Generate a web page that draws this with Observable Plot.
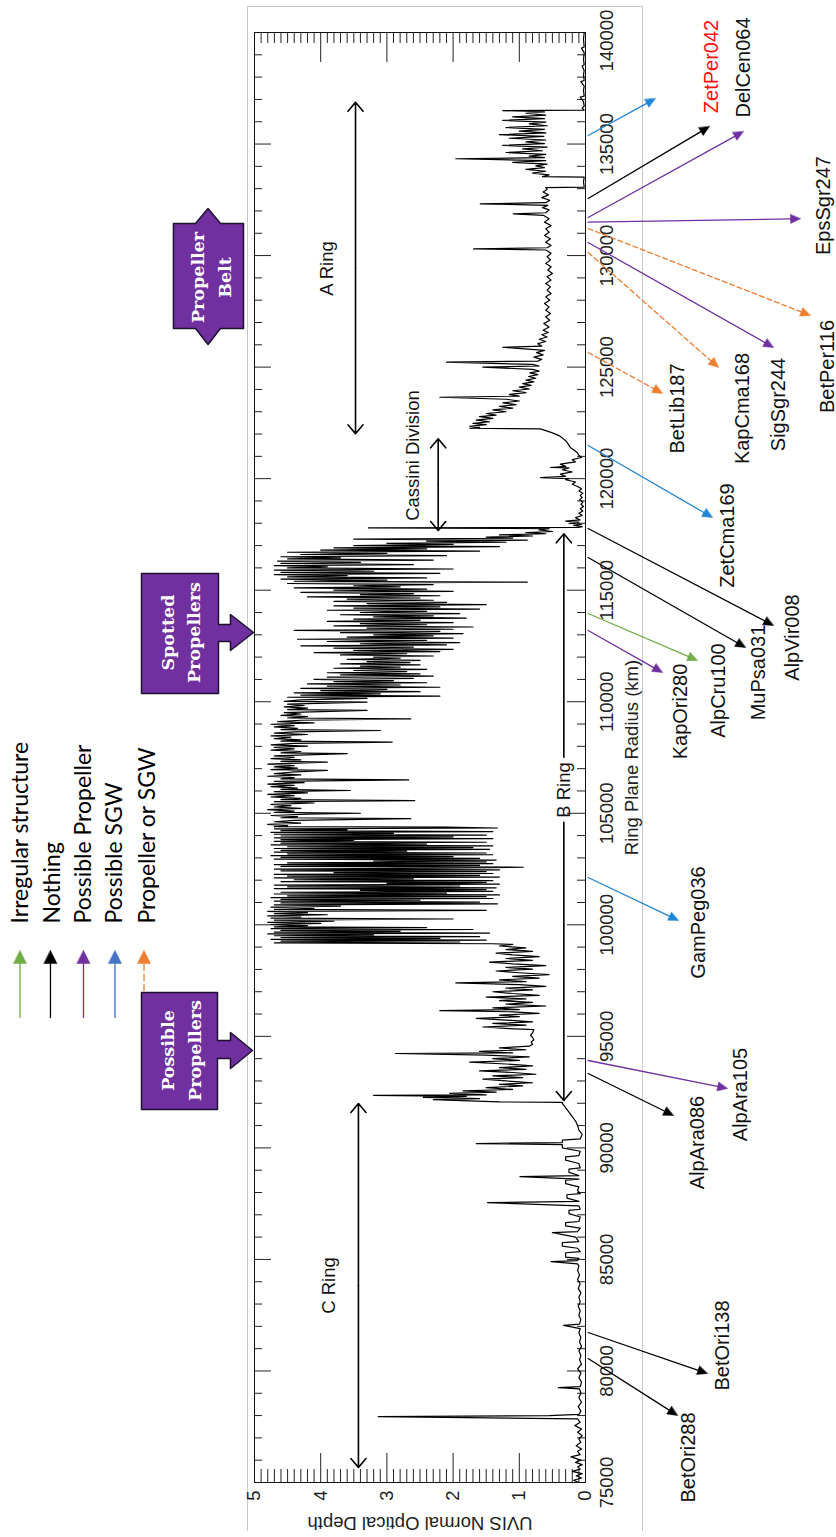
<!DOCTYPE html>
<html><head><meta charset="utf-8">
<script src="https://cdn.jsdelivr.net/npm/d3@7"></script>
<script src="https://cdn.jsdelivr.net/npm/@observablehq/plot@0.6"></script>
<style>html,body{margin:0;padding:0;background:#fff}#chart svg{display:block}</style>
</head><body><div id="chart"></div>
<script>
// ---------------- DATA: UVIS normal optical depth vs ring plane radius [radius km, depth] ----------------
const cRing = [[75000,0.1],[75100,0.18],[75200,0.06],[75300,0.14],[75400,0.05],[75500,0.2],[75600,0.08],[75700,0.12],[75800,0.05],[75900,0.15],[76000,0.07],[76150,0.22],[76250,0.08],[76400,0.12],[76500,0.06],[76650,0.14],[76800,0.07],[76950,0.1],[77100,0.05],[77250,0.12],[77400,0.06],[77550,0.16],[77700,0.08],[77850,0.12],[77950,3.13],[78000,0.55],[78050,0.1],[78200,0.07],[78400,0.11],[78600,0.06],[78800,0.1],[79000,0.07],[79200,0.09],[79250,0.41],[79300,0.08],[79500,0.06],[79700,0.1],[79900,0.07],[80100,0.12],[80300,0.06],[80500,0.09],[80700,0.07],[80900,0.1],[81100,0.06],[81300,0.09],[81500,0.07],[81700,0.1],[81900,0.08],[82040,0.33],[82100,0.09],[82300,0.07],[82500,0.1],[82700,0.08],[82900,0.11],[83100,0.08],[83300,0.1],[83500,0.07],[83700,0.11],[83900,0.08],[84100,0.12],[84300,0.09],[84500,0.12],[84700,0.1],[84800,0.12],[84900,0.52],[84950,0.12],[85050,0.1],[85100,0.3],[85300,0.3],[85350,0.08],[85500,0.12],[85600,0.35],[85750,0.35],[85800,0.1],[86000,0.15],[86200,0.5],[86250,0.12],[86400,0.08],[86500,0.3],[86650,0.3],[86700,0.1],[86900,0.08],[87050,0.25],[87200,0.25],[87250,0.08],[87400,0.1],[87550,1.48],[87600,0.1],[87750,0.28],[87900,0.28],[87950,0.08],[88100,0.12],[88250,0.1],[88400,0.3],[88550,0.3],[88600,0.1],[88715,0.99],[88760,0.1],[88900,0.25],[89050,0.25],[89100,0.08],[89300,0.1],[89450,0.3],[89600,0.3],[89650,0.1],[89850,0.08],[90000,0.35],[90150,0.35],[90195,1.65],[90240,0.35],[90350,0.35],[90400,0.08],[90600,0.05],[90800,0.1],[91000,0.12],[91200,0.15],[91400,0.2],[91600,0.25],[91800,0.3],[92000,0.35]];

const bRingInner = [[92040,0.35],[92060,1.3],[92110,1.75],[92160,2.3],[92210,1.6],[92260,2.45],[92310,1.8],[92350,3.2],[92380,1.5],[92440,2.05],[92500,1.35],[92560,1.85],[92620,1.1],[92700,1.5],[92780,0.95],[92850,1.3],[92920,0.8],[93000,1.2],[93080,1.55],[93150,0.95],[93230,1.4],[93300,0.75],[93380,1.1],[93450,1.6],[93520,0.9],[93600,1.3],[93680,0.8],[93760,1.2],[93840,1.75],[93920,1.0],[94000,1.4],[94080,0.85],[94160,1.5],[94230,2.87],[94260,1.1],[94330,1.6],[94400,0.9],[94480,1.3],[94560,0.85],[94640,0.8],[94750,0.82],[94850,0.78],[94950,0.8],[95050,0.83],[95150,0.8],[95300,0.78],[95350,1.15],[95420,1.55],[95500,0.9],[95580,1.4],[95650,0.8],[95730,1.2],[95810,1.65],[95880,1.0],[95950,1.3],[96030,0.7],[96100,1.1],[96150,2.2],[96200,1.0],[96280,1.4],[96360,0.6],[96440,1.2],[96520,0.8],[96600,1.3],[96680,0.9],[96760,1.5],[96840,0.7],[96920,1.1],[97000,1.4],[97080,0.8],[97160,1.2],[97240,0.6],[97320,1.0],[97400,1.96],[97450,0.9],[97530,1.3],[97610,0.7],[97690,1.1],[97770,0.55],[97850,1.0],[97930,1.35],[98010,0.8],[98090,1.2],[98170,0.6],[98250,1.1],[98330,1.45],[98410,0.8],[98490,1.2],[98570,0.7],[98650,1.1],[98730,1.35],[98810,0.8],[98890,1.2],[98970,0.9],[99050,1.3],[99120,1.1]];

const bRingDense = [[99150,1.4],[99190,4.7],[99230,1.9],[99270,4.6],[99310,1.5],[99350,4.75],[99390,2.2],[99430,4.6],[99470,1.6],[99510,4.7],[99550,3.2],[99590,4.8],[99630,1.45],[99670,4.7],[99710,2.8],[99750,4.6],[99790,1.7],[99830,4.75],[99870,2.4],[99910,4.7],[99960,4.2],[100010,4.75],[100060,4.0],[100110,4.8],[100160,3.8],[100210,4.7],[100260,2.0],[100300,4.75],[100350,4.3],[100400,4.8],[100450,3.9],[100500,4.7],[100550,4.2],[100600,4.8],[100650,1.5],[100690,4.7],[100740,4.1],[100790,4.75],[100840,3.7],[100890,4.7],[100940,1.33],[100980,4.6],[101020,1.6],[101060,4.7],[101100,2.5],[101140,4.6],[101180,1.4],[101220,4.75],[101260,1.5],[101300,4.5],[101340,1.3],[101380,4.7],[101420,2.1],[101460,4.6],[101500,1.4],[101540,3.4],[101580,1.5],[101620,4.7],[101660,1.35],[101700,4.5],[101740,1.9],[101780,4.7],[101820,1.3],[101860,3.0],[101900,1.5],[101940,4.6],[101980,1.4],[102020,4.4],[102060,2.6],[102100,4.7],[102140,1.3],[102180,4.5],[102220,1.6],[102260,4.7],[102300,1.4],[102340,3.8],[102380,1.5],[102420,4.6],[102460,1.3],[102500,4.7],[102540,2.2],[102580,0.94],[102620,4.6],[102660,1.6],[102700,4.7],[102740,1.4],[102780,4.5],[102820,1.5],[102860,3.2],[102900,1.35],[102940,4.7],[102980,1.6],[103020,4.6],[103060,2.0],[103100,4.75],[103140,1.4],[103180,4.5],[103220,1.5],[103260,4.7],[103300,2.7],[103340,4.6],[103380,1.45],[103420,4.7],[103460,1.7],[103500,4.5],[103540,1.4],[103580,4.75],[103620,2.4],[103660,4.6],[103700,1.5],[103740,4.7],[103780,3.5],[103820,4.6],[103860,1.4],[103900,4.7],[103940,2.0],[103980,4.6],[104020,1.5],[104060,4.7],[104100,2.9],[104140,4.75],[104180,1.4],[104220,4.6],[104260,3.6],[104300,4.7],[104340,1.33],[104380,2.1],[104400,4.7]];

const bRingOpaque = [[104450,4.5],[104500,4.8],[104560,4.3],[104620,4.7],[104680,4.4],[104760,2.64],[104800,4.6],[104850,4.35],[104900,4.75],[104960,4.2],[105000,3.4],[105040,4.7],[105100,4.4],[105160,4.8],[105220,4.3],[105280,4.7],[105340,4.45],[105400,4.75],[105460,4.1],[105520,4.7],[105570,2.58],[105610,4.6],[105670,4.3],[105730,4.75],[105790,4.4],[105850,4.8],[105910,4.2],[105970,4.7],[106020,3.55],[106070,4.6],[106130,4.35],[106190,4.75],[106250,4.4],[106310,4.8],[106370,4.25],[106430,4.7],[106500,2.67],[106540,4.6],[106600,4.4],[106660,4.8],[106720,4.3],[106780,4.7],[106840,4.45],[106920,3.9],[106960,4.75],[107020,4.35],[107080,4.7],[107140,4.4],[107200,4.8],[107290,3.9],[107330,4.6],[107390,4.3],[107450,4.75],[107510,4.4],[107570,4.7],[107670,3.6],[107710,4.6],[107770,4.3],[107830,4.75],[107890,4.4],[107950,4.7],[108010,4.2],[108070,4.75],[108130,4.4],[108190,2.92],[108230,4.6],[108290,4.3],[108350,4.7],[108410,4.45],[108470,4.75],[108530,4.2],[108590,4.7],[108650,4.4],[108710,3.1],[108750,4.6],[108810,4.35],[108870,4.7],[108930,4.4],[108990,4.75],[109050,4.1],[109110,4.65],[109170,4.3],[109230,2.64],[109270,4.5],[109330,4.2],[109390,4.6],[109450,4.3],[109510,4.55],[109610,3.3],[109650,4.5],[109710,4.2],[109770,4.55],[109830,4.25],[109890,4.5],[109980,3.3],[110020,4.55],[110080,4.3]];

const bRingOuter = [[110150,3.3],[110200,4.5],[110250,2.2],[110300,4.3],[110350,3.1],[110400,4.4],[110450,2.5],[110500,4.0],[110550,3.0],[110600,4.3],[110650,2.2],[110700,3.9],[110750,2.8],[110800,4.2],[110850,2.4],[110900,3.8],[110950,2.9],[111000,4.1],[111050,2.6],[111100,3.9],[111150,2.3],[111200,3.7],[111250,2.5],[111300,3.9],[111350,2.7],[111400,3.5],[111450,2.4],[111500,3.8],[111550,2.8],[111600,3.4],[111650,2.5],[111700,3.7],[111750,2.65],[111800,3.3],[111850,2.5],[111900,3.6],[111950,2.8],[112000,3.2],[112050,2.3],[112100,3.7],[112150,2.7],[112200,4.1],[112250,2.2],[112300,3.5],[112350,2.0],[112400,3.8],[112450,2.6],[112500,4.3],[112550,2.1],[112600,3.4],[112650,1.9],[112700,3.9],[112750,2.4],[112800,4.35],[112850,2.0],[112900,3.6],[112950,2.3],[113000,3.2],[113050,1.85],[113100,3.7],[113150,2.2],[113200,4.4],[113250,2.0],[113300,3.3],[113350,1.7],[113400,3.8],[113450,2.4],[113500,3.4],[113550,2.0],[113600,3.9],[113650,2.5],[113700,3.5],[113750,1.8],[113800,3.2],[113850,2.3],[113900,3.7],[113950,1.9],[114000,3.4],[114050,2.4],[114100,3.9],[114150,1.6],[114200,3.5],[114250,2.2],[114300,3.8],[114350,1.5],[114400,3.3],[114450,2.1],[114500,3.8],[114550,2.3],[114600,3.6],[114650,2.5],[114700,4.2],[114750,2.2],[114800,3.4],[114850,2.6],[114900,4.3],[114950,2.0],[115000,3.8],[115050,2.4],[115100,4.4],[115150,2.8],[115200,3.5],[115250,2.3],[115300,4.5],[115360,0.88],[115400,4.4],[115450,3.0],[115500,4.6],[115550,2.4],[115600,4.5],[115650,3.6],[115700,4.7],[115750,2.2],[115800,4.6],[115850,3.2],[115900,4.7],[115950,2.0],[116000,4.5],[116050,3.9],[116100,4.7],[116150,2.6],[116200,4.6],[116250,3.4],[116300,4.65],[116350,2.3],[116400,4.5],[116450,3.7],[116500,4.6],[116550,2.1],[116600,4.3],[116650,3.0],[116700,4.5],[116750,1.6],[116800,4.0],[116850,2.4],[116900,3.8],[116950,1.3],[117000,3.5],[117050,2.0],[117100,3.0],[117150,1.2],[117200,2.4],[117240,0.88],[117290,3.5],[117330,1.1],[117380,1.5],[117430,0.8],[117480,1.3],[117530,0.6],[117580,0.9],[117630,0.5],[117700,0.7],[117760,0.55],[117790,3.28],[117810,0.1]];

const cassiniDivision = [[117850,0.05],[117900,0.18],[117950,0.06],[118000,0.25],[118050,0.1],[118100,0.3],[118150,0.08],[118250,0.15],[118350,0.05],[118450,0.1],[118550,0.04],[118650,0.08],[118750,0.03],[118850,0.07],[118950,0.04],[119050,0.09],[119150,0.05],[119250,0.08],[119350,0.04],[119450,0.1],[119550,0.06],[119650,0.12],[119750,0.2],[119850,0.15],[119950,0.3],[120000,0.25],[120050,0.68],[120100,0.3],[120200,0.38],[120300,0.2],[120400,0.35],[120480,0.25],[120500,0.53],[120550,0.3],[120650,0.38],[120750,0.15],[120850,0.2],[120950,0.06],[121050,0.1],[121150,0.12],[121250,0.16],[121400,0.23],[121550,0.26],[121700,0.3],[121850,0.36],[121930,0.4],[122050,0.5],[122150,0.6],[122230,0.68]];

const aRing = [[122260,1.75],[122300,1.6],[122350,1.75],[122420,1.5],[122480,1.7],[122550,1.45],[122620,1.65],[122700,1.4],[122780,1.6],[122850,1.35],[122920,1.5],[123000,1.2],[123080,1.4],[123160,1.1],[123240,1.3],[123320,1.05],[123400,1.25],[123480,1.0],[123560,1.2],[123650,2.2],[123700,1.0],[123780,1.15],[123860,0.9],[123940,1.1],[124020,0.85],[124100,1.0],[124180,0.82],[124260,0.95],[124340,0.78],[124420,0.9],[124500,0.75],[124580,0.86],[124660,0.72],[124740,0.84],[124820,0.7],[124900,0.8],[125000,1.55],[125050,0.7],[125120,0.8],[125220,2.1],[125270,0.72],[125350,0.66],[125450,0.78],[125550,0.64],[125650,0.74],[125750,0.62],[125890,1.25],[125940,0.66],[126050,0.72],[126150,0.6],[126250,0.7],[126350,0.58],[126450,0.66],[126550,0.56],[126650,0.64],[126800,0.55],[126950,0.63],[127100,0.54],[127250,0.6],[127400,0.53],[127550,0.6],[127700,0.55],[127850,0.62],[128000,0.54],[128150,0.6],[128300,0.52],[128450,0.58],[128600,0.53],[128750,0.6],[128900,0.52],[129050,0.58],[129200,0.5],[129350,0.57],[129500,0.52],[129650,0.6],[129800,0.53],[129950,0.58],[130100,0.52],[130250,0.6],[130300,1.69],[130350,0.58],[130450,0.52],[130600,0.6],[130750,0.53],[130900,0.62],[131050,0.55],[131200,0.6],[131350,0.52],[131500,0.62],[131650,0.55],[131800,0.63],[131870,1.09],[131920,0.6],[132050,0.55],[132150,0.65],[132250,0.57],[132320,1.59],[132370,0.6],[132480,0.54],[132600,0.66],[132720,0.56],[132850,0.64],[132960,0.58],[133050,0.6],[133070,0.02],[133300,0.03],[133520,0.02],[133540,0.65],[133620,0.55],[133700,0.8],[133780,0.6],[133860,0.9],[133940,0.62],[134020,0.75],[134100,0.58],[134180,1.1],[134260,0.6],[134340,1.96],[134390,0.62],[134460,0.85],[134540,0.6],[134620,1.2],[134700,0.65],[134780,0.95],[134860,0.58],[134940,1.25],[135020,0.62],[135100,0.9],[135180,0.6],[135260,1.15],[135340,0.63],[135420,1.3],[135500,0.6],[135580,1.0],[135660,0.62],[135740,1.2],[135820,0.58],[135900,0.85],[135980,0.6],[136060,1.25],[136140,0.62],[136220,1.1],[136300,0.6],[136380,0.9],[136440,0.62],[136500,1.25],[136520,0.02]];

const outerRegion = [[136600,0.05],[136700,0.02],[136900,0.03],[137100,0.08],[137150,0.02],[137400,0.03],[137600,0.02],[137800,0.07],[137850,0.02],[138100,0.03],[138300,0.02],[138500,0.05],[138550,0.02],[138800,0.03],[139100,0.02],[139300,0.06],[139350,0.02],[139700,0.03],[140000,0.02]];

// tick values / labels
const radiusTickLabels = [75000,80000,85000,90000,95000,100000,105000,110000,115000,120000,125000,130000,135000,140000];
const depthTickLabels = [0,1,2,3,4,5];

// star occultations: name, category, radius where the arrow leaves the profile (km)
const starNames = ["", "ZetPer042","DelCen064","EpsSgr247","BetPer116","SigSgr244","KapCma168","BetLib187","ZetCma169","AlpVir008","MuPsa031","AlpCru100","KapOri280","GamPeg036","AlpAra105","AlpAra086","BetOri138","BetOri288"];
const starCategory = ["sgw","nothing","propeller","propeller","either","propeller","either","either","sgw","nothing","nothing","irregular","propeller","sgw","propeller","nothing","nothing","nothing"];
const starRadius = [135383,132558,131707,131496,131214,130586,130138,125655,121486,117765,116465,113955,113193,102120,93917,93334,81724,80559];

const legendLabels = ["Irregular structure","Nothing","Possible Propeller","Possible SGW","Propeller or SGW"];
const legendCategories = ["irregular","nothing","propeller","sgw","either"];

// ---------------- LAYOUT (annotation placement in chart units: depth, radius) ----------------
const arrowTip = [[-1.057,137041],[-1.873,135786],[-2.387,135562],[-3.248,131648],[-3.399,127313],[-2.840,125879],[-2.009,124983],[-1.163,123817],[-1.918,118258],[-2.840,113417],[-2.417,112431],[-1.692,111848],[-1.163,111310],[-1.405,100193],[-2.145,92662],[-1.329,91451],[-1.843,79886],[-1.390,78003]];
const labelPos = [null,[-1.903,138476],[-2.387,138431],[-3.595,132245],[-3.656,125027],[-2.915,123324],[-2.372,123145],[-1.390,123145],[-2.145,117451],[-3.127,112879],[-2.613,111310],[-2.009,110503],[-1.435,109562],[-1.707,100103],[-2.341,92393],[-1.692,90241],[-2.069,81141],[-1.556,76120]];
const arrowColor = {irregular:"#70ad47", nothing:"#000000", propeller:"#7030a0", sgw:"#2185d5", either:"#ed7d31"};
const legendColor = {irregular:"#70ad47", nothing:"#000000", propeller:"#7030a0", sgw:"#4472c4", either:"#ed7d31"};

const xs = d3.scaleLinear([5, 0], [254, 585]);
const ys = d3.scaleLinear([75000, 140000], [1482, 32]);

function arrowGeom(d0, r0, d1, r1, L = 10, W = 9) {
  const x0 = xs(d0), y0 = ys(r0), x1 = xs(d1), y1 = ys(r1);
  const len = Math.hypot(x1 - x0, y1 - y0), ux = (x1 - x0) / len, uy = (y1 - y0) / len;
  const bx = x1 - ux * L, by = y1 - uy * L, nx = -uy, ny = ux;
  const p = (x, y) => ({d: xs.invert(x), r: ys.invert(y)});
  return {base: p(bx + ux * 1, by + uy * 1), tri: [p(x1, y1), p(bx + nx * W / 2, by + ny * W / 2), p(bx - nx * W / 2, by - ny * W / 2)]};
}

const profile = [...cRing, ...bRingInner, ...bRingDense, ...bRingOpaque, ...bRingOuter, ...cassiniDivision, ...aRing, ...outerRegion].map(([r, d]) => ({r, d}));

const marks = [];
const SANS = "Liberation Sans, Arial, Helvetica, sans-serif";

// outer light frame of the figure
marks.push(Plot.line([{d:5.106,r:72848},{d:5.106,r:141166},{d:-0.861,r:141166},{d:-0.861,r:72848}], {x:"d", y:"r", stroke:"#c8c8c8", strokeWidth:1}));

// ticks
const depthMinor = d3.range(1, 50).map(i => i / 10).filter(v => Math.abs(v - Math.round(v)) > 1e-9);
const depthMajor = [1, 2, 3, 4];
const radMinor = d3.range(76000, 140000, 1000).filter(v => v % 5000 !== 0);
const radMajor = d3.range(80000, 140000, 5000);
const tickStyle = {stroke:"#222", strokeWidth:1};
marks.push(Plot.ruleX(depthMinor, {x:d=>d, y1:()=>75000, y2:()=>ys.invert(1482-13), ...tickStyle}));
marks.push(Plot.ruleX(depthMajor, {x:d=>d, y1:()=>75000, y2:()=>ys.invert(1482-29), ...tickStyle}));
marks.push(Plot.ruleX(depthMinor, {x:d=>d, y1:()=>140000, y2:()=>ys.invert(32+11), ...tickStyle}));
marks.push(Plot.ruleX(depthMajor, {x:d=>d, y1:()=>140000, y2:()=>ys.invert(32+30), ...tickStyle}));
marks.push(Plot.ruleY(radMinor, {y:d=>d, x1:()=>5, x2:()=>xs.invert(254+8), ...tickStyle}));
marks.push(Plot.ruleY(radMajor, {y:d=>d, x1:()=>5, x2:()=>xs.invert(254+17), ...tickStyle}));
marks.push(Plot.ruleY(radMinor, {y:d=>d, x1:()=>0, x2:()=>xs.invert(585-8), ...tickStyle}));
marks.push(Plot.ruleY(radMajor, {y:d=>d, x1:()=>0, x2:()=>xs.invert(585-18), ...tickStyle}));

// profile
marks.push(Plot.line(profile, {x:"d", y:"r", stroke:"#000", strokeWidth:1.2}));
marks.push(Plot.frame({stroke:"#111", strokeWidth:1}));

// ring extent arrows
const ringArrows = [
  {d:3.474, from:129443, to:136876}, {d:3.474, from:129443, to:122010},
  {d:2.225, from:119730, to:121786}, {d:2.225, from:119730, to:117676},
  {d:0.327, from:107513, to:117527}, {d:0.327, from:104600, to:92124},
  {d:3.43, from:83830, to:91989}, {d:3.43, from:83830, to:75672}
];
marks.push(Plot.arrow(ringArrows, {x1:"d", y1:"from", x2:"d", y2:"to", stroke:"#000", strokeWidth:1.6, headLength:11, headAngle:80}));
const ringLabels = [
  {t:"A Ring", d:3.897, r:129420}, {t:"Cassini Division", d:2.598, r:121037},
  {t:"B Ring", d:0.327, r:106043}, {t:"C Ring", d:3.88, r:83830}
];
marks.push(Plot.text(ringLabels, {x:"d", y:"r", text:"t", rotate:-90, fontSize:18.5, fontFamily:SANS, fill:"#111", textAnchor:"middle", lineAnchor:"middle"}));

// axis tick labels and titles
marks.push(Plot.text(radiusTickLabels, {x:()=>-0.332, y:d=>d === 140000 ? 139640 : d, text:d=>String(d), rotate:-90, fontSize:18.5, fontFamily:SANS, fill:"#222", textAnchor:"middle", lineAnchor:"middle"}));
marks.push(Plot.text(depthTickLabels, {x:d=>d, y:()=>74417, text:d=>String(d), rotate:-90, fontSize:18.5, fontFamily:SANS, fill:"#222", textAnchor:"middle", lineAnchor:"middle"}));
marks.push(Plot.text(["UVIS Normal Optical Depth"], {x:()=>2.5, y:()=>73206, text:d=>d, rotate:180, fontSize:18.5, fontFamily:SANS, fill:"#222", textAnchor:"middle", lineAnchor:"middle"}));
marks.push(Plot.text(["Ring Plane Radius (km)"], {x:()=>-0.71, y:()=>107500, text:d=>d, rotate:-90, fontSize:18.5, fontFamily:SANS, fill:"#222", textAnchor:"middle", lineAnchor:"middle"}));

// star arrows
const START_D = -0.04;
starNames.forEach((name, i) => {
  const cat = starCategory[i], color = arrowColor[cat];
  const [d1, r1] = arrowTip[i];
  const g = arrowGeom(START_D, starRadius[i], d1, r1);
  marks.push(Plot.line([{d:START_D, r:starRadius[i]}, g.base], {x:"d", y:"r", stroke:color, strokeWidth:1.3, strokeDasharray: cat === "either" ? "5,3" : null}));
  marks.push(Plot.line(g.tri, {x:"d", y:"r", fill:color, stroke:color, strokeWidth:0.5, curve:"linear-closed"}));
  if (name) {
    const [ld, lr] = labelPos[i];
    marks.push(Plot.text([name], {x:()=>ld, y:()=>lr, text:d=>d, rotate:-90, fontSize:20, fontFamily:SANS, fill: name === "ZetPer042" ? "#ff1010" : "#111", textAnchor:"middle", lineAnchor:"middle"}));
  }
});

// purple callout boxes
const callouts = [
  {text:"Possible\nPropellers", td:6.140, tr:94365, shape:[[6.707,96965],[5.559,96965],[5.559,94813],[5.363,94813],[5.363,95172],[5.030,94365],[5.363,93558],[5.363,94007],[5.559,94007],[5.559,91720],[6.707,91720]]},
  {text:"Spotted\nPropellers", td:6.148, tr:113100, shape:[[6.707,115748],[5.544,115748],[5.544,113462],[5.363,113462],[5.363,113910],[5.015,113103],[5.363,112296],[5.363,112700],[5.544,112700],[5.544,110369],[6.707,110369]]},
  {text:"Propeller\nBelt", td:5.687, tr:129017, shape:[[6.224,131438],[5.891,131438],[5.702,132110],[5.514,131438],[5.166,131438],[5.166,126731],[5.514,126731],[5.702,126014],[5.891,126731],[6.224,126731]]}
];

// legend
legendLabels.forEach((lab, i) => {
  const cat = legendCategories[i], color = legendColor[cat];
  const ld = [8.542, 8.082, 7.583, 7.107, 6.669][i];
  const fromR = cat === "either" ? 97055 : 95844;
  const g = arrowGeom(ld, fromR, ld, 98848, 13, 13);
  marks.push(Plot.line([{d:ld, r:fromR}, g.base], {x:"d", y:"r", stroke:color, strokeWidth:1.3, strokeDasharray: cat === "either" ? "6,4" : null}));
  marks.push(Plot.line(g.tri, {x:"d", y:"r", fill:color, stroke:color, strokeWidth:0.5, curve:"linear-closed"}));
  const td = [8.535, 8.051, 7.576, 7.115, 6.616][i];
  marks.push(Plot.text([lab], {x:()=>td, y:()=>100058, text:d=>d, rotate:-90, fontSize:23, fontFamily:"Lato, Carlito, sans-serif", fill:"#000", textAnchor:"start", lineAnchor:"middle"}));
});

callouts.forEach(c => {
  marks.push(Plot.line(c.shape.map(([d, r]) => ({d, r})), {x:"d", y:"r", fill:"#7030a0", stroke:"#1e1030", strokeWidth:1.5, curve:"linear-closed"}));
  marks.push(Plot.text([c.text], {x:()=>c.td, y:()=>c.tr, text:d=>d, rotate:-90, fontSize:17.5, fontWeight:"bold", fontFamily:"DejaVu Serif, serif", fill:"#fff", textAnchor:"middle", lineAnchor:"middle", lineHeight:1.5}));
});

const chart = Plot.plot({
  width: 836, height: 1537,
  marginLeft: 254, marginRight: 251, marginTop: 32, marginBottom: 55,
  x: {domain: [5, 0], axis: null},
  y: {domain: [75000, 140000], axis: null},
  style: {background: "#fff", fontFamily: SANS, overflow: "visible"},
  marks
});
document.getElementById("chart").appendChild(chart);
</script>
</body></html>
